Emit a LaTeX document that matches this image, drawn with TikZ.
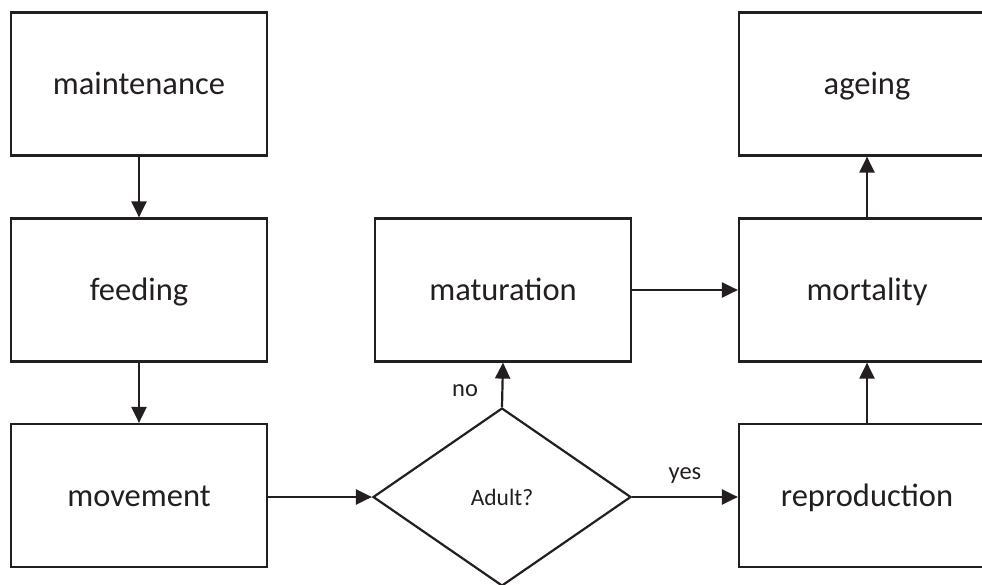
\documentclass[tikz,border=0pt]{standalone}
\usepackage{fontspec}
\setmainfont{Carlito}
\usetikzlibrary{shapes.geometric,arrows.meta}
\definecolor{ink}{HTML}{231F20}
\tikzset{
  stagebox/.style={draw=ink, line width=2.2pt, minimum width=256pt, minimum height=143pt,
    inner sep=0pt, text height=29pt, text depth=8pt,
    font=\fontsize{32.5}{38}\selectfont, text=ink},
  choice/.style={draw=ink, line width=2.2pt, shape=diamond, minimum width=258pt,
    minimum height=178pt, inner sep=0pt, font=\fontsize{23.5}{28}\selectfont, text=ink},
  flow/.style={->, draw=ink, line width=2.2pt, >={Triangle[length=16pt,width=15pt]}},
  tag/.style={font=\fontsize{24.5}{28}\selectfont, text=ink}
}
\begin{document}
\begin{tikzpicture}[x=1pt, y=-1pt]
  \useasboundingbox (0,0) rectangle (982,585);

  % Left column
  \node[stagebox] (maintenance) at (139, 84) {maintenance};
  \node[stagebox] (feeding) at (139, 290) {feeding};
  \node[stagebox] (movement) at (139, 495.5) {movement};

  % Decision and its branches
  \node[choice] (adult) at (502, 497) {Adult?};
  \node[stagebox] (maturation) at (503, 290) {maturation};

  % Right column
  \node[stagebox] (reproduction) at (867, 495.5) {reproduction};
  \node[stagebox] (mortality) at (867, 290) {mortality};
  \node[stagebox] (ageing) at (867, 84) {ageing};

  % Connectors
  \draw[flow] (maintenance) -- (feeding);
  \draw[flow] (feeding) -- (movement);
  \draw[flow] (movement.east |- adult.west) -- (adult.west);
  \draw[flow] (adult.east) -- (reproduction.west |- adult.east)
    node[tag, midway, above=9pt] {yes};
  \draw[flow] (adult.north) -- (maturation.south)
    node[tag, pos=0.37, left=20pt] {no};
  \draw[flow] (maturation) -- (mortality);
  \draw[flow] (reproduction) -- (mortality);
  \draw[flow] (mortality) -- (ageing);
\end{tikzpicture}
\end{document}
